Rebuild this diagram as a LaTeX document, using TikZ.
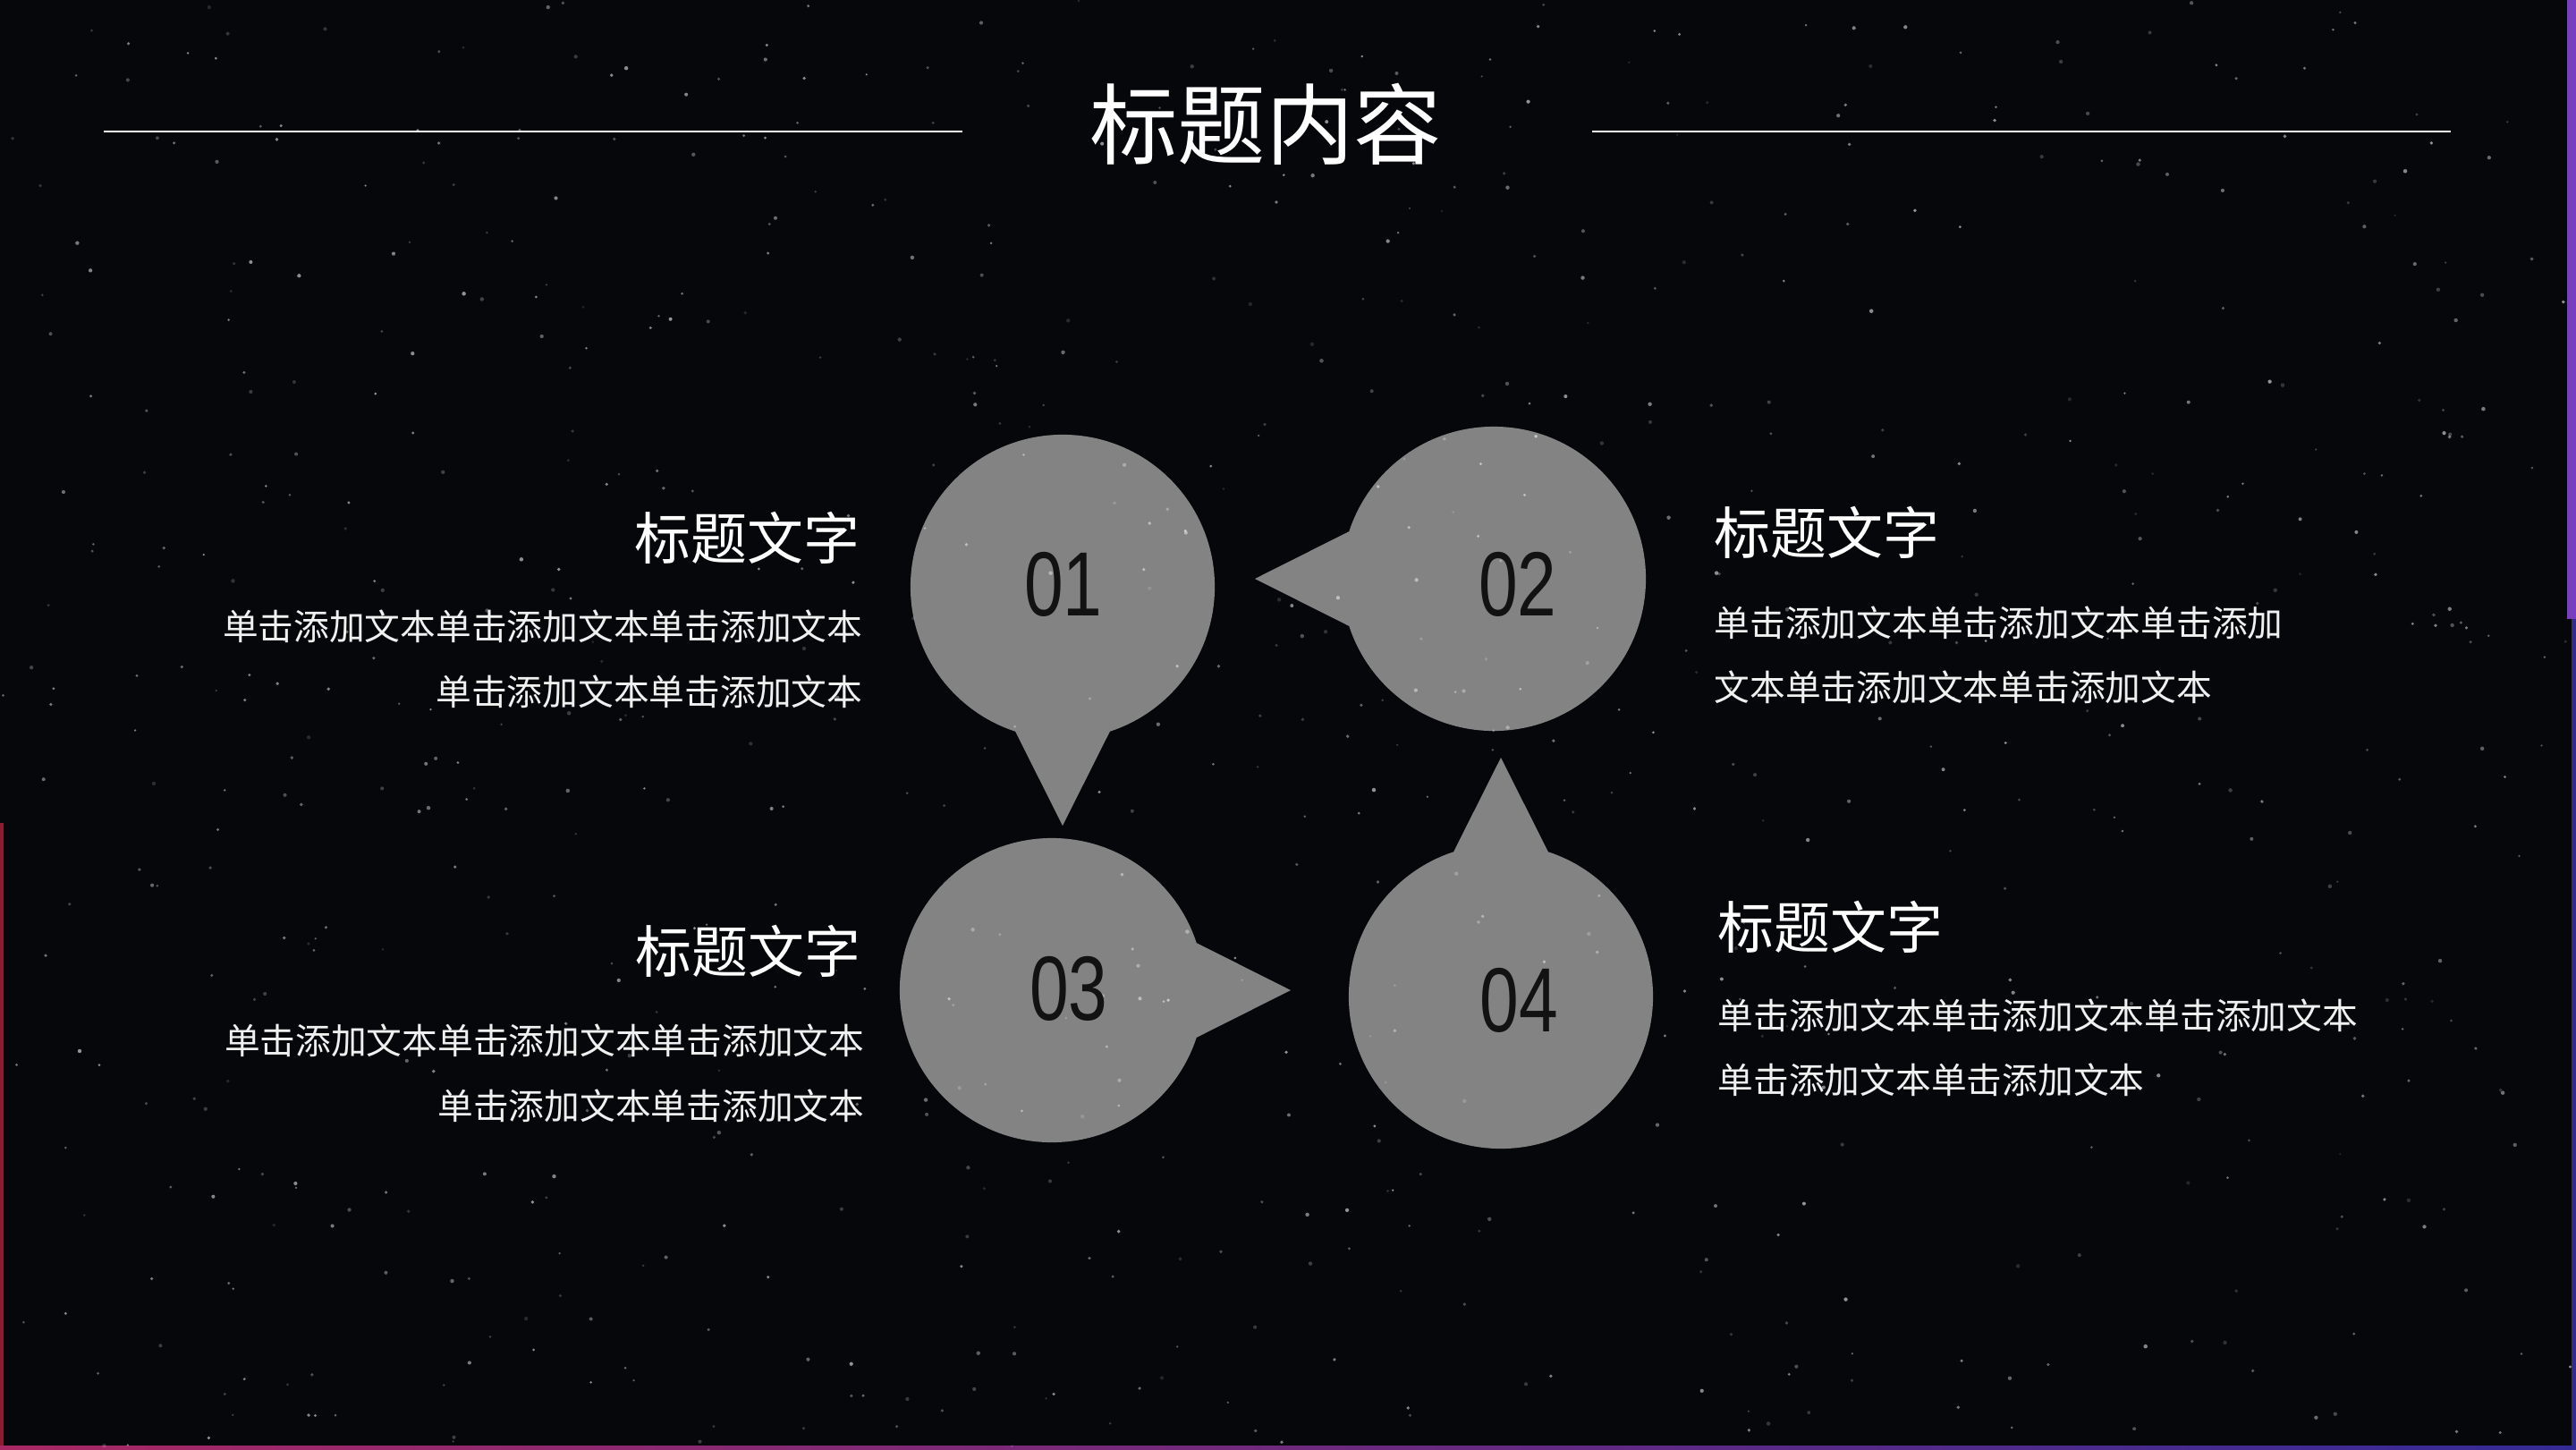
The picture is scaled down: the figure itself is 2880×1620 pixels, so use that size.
\documentclass[tikz,border=0pt]{standalone}
\usepackage{fontspec}
\usepackage{xcolor}
\usepackage{tikz}
\setmainfont{Noto Sans CJK SC}
\newfontfamily\numfont[FakeStretch=0.77]{Liberation Sans}
\definecolor{bgdark}{RGB}{6,7,10}
\definecolor{bubblegray}{RGB}{131,131,131}
\definecolor{bodytext}{RGB}{240,240,240}
\definecolor{numtext}{RGB}{18,18,18}
\definecolor{edgepurple}{RGB}{122,62,192}
\definecolor{edgered}{RGB}{140,28,52}
\definecolor{edgeblue}{RGB}{52,42,150}
\definecolor{edgepink}{RGB}{168,40,100}

\begin{document}
\begin{tikzpicture}[x=0.01cm,y=-0.01cm]
	\useasboundingbox (0,0) rectangle (2880,1620);
	\fill[bgdark] (0,0) rectangle (2880,1620);
	\fill[edgered] (0,920) rectangle (4,1620);
	\fill[edgepurple] (2870,0) rectangle (2880,692);
	\fill[edgeblue] (2875,692) rectangle (2880,1620);
	\shade[left color=edgepink,right color=edgeblue] (0,1616) rectangle (2880,1620);
	\tikzstyle{bubble}=[fill=bubblegray]
	\tikzstyle{rule}=[white,line width=0.8pt]
	\tikzstyle{title}=[text=white,font=\fontsize{28}{32}\selectfont,inner sep=0pt,anchor=base]
	\tikzstyle{head}=[text=white,font=\fontsize{17.9}{21}\selectfont,inner sep=0pt]
	\tikzstyle{body}=[text=bodytext,font=\fontsize{11.3}{14}\selectfont,inner sep=0pt]
	\tikzstyle{num}=[text=numtext,font=\numfont\fontsize{29}{32}\selectfont,inner sep=0pt]
	% speech bubbles
	\fill[bubble] (1188,656) circle (1.7cm);
	\fill[bubble] (1188,923) -- (1135,817.5) -- (1241,817.5) -- cycle;
	\fill[bubble] (1670,647) circle (1.7cm);
	\fill[bubble] (1403,647) -- (1508.5,594) -- (1508.5,700) -- cycle;
	\fill[bubble] (1176,1107) circle (1.7cm);
	\fill[bubble] (1443,1107) -- (1337.5,1054) -- (1337.5,1160) -- cycle;
	\fill[bubble] (1678,1114) circle (1.7cm);
	\fill[bubble] (1678,847) -- (1625,952.5) -- (1731,952.5) -- cycle;
	% stars
	\pgfmathsetseed{2024}
	\foreach \i in {1,...,800} {
		\pgfmathsetmacro{\sx}{rnd*2880}
		\pgfmathsetmacro{\sy}{rnd*1620}
		\pgfmathsetmacro{\so}{0.12+0.45*rnd}
		\pgfmathsetmacro{\sr}{0.35+0.3*rnd}
		\fill[white,opacity=\so] (\sx,\sy) circle (\sr pt);
	}
	% title
	\node[title] (title) at (1415,176) {标题内容};
	\draw[rule] (116,147) -- (1076,147);
	\draw[rule] (1780,147) -- (2740,147);
	% numbers
	\node[num] (n1) at (1189,653) {01};
	\node[num] (n2) at (1697,653) {02};
	\node[num] (n3) at (1195,1105) {03};
	\node[num] (n4) at (1698,1118) {04};
	% left texts
	\node[head,anchor=base east] (h1) at (962,625) {标题文字};
	\node[body,anchor=base east] (t1a) at (965,715) {单击添加文本单击添加文本单击添加文本};
	\node[body,anchor=base east] (t1b) at (965,788) {单击添加文本单击添加文本};
	\node[head,anchor=base east] (h3) at (963,1087) {标题文字};
	\node[body,anchor=base east] (t3a) at (967,1178) {单击添加文本单击添加文本单击添加文本};
	\node[body,anchor=base east] (t3b) at (967,1251) {单击添加文本单击添加文本};
	% right texts
	\node[head,anchor=base west] (h2) at (1916,619) {标题文字};
	\node[body,anchor=base west] (t2a) at (1916,711) {单击添加文本单击添加文本单击添加};
	\node[body,anchor=base west] (t2b) at (1916,783) {文本单击添加文本单击添加文本};
	\node[head,anchor=base west] (h4) at (1920,1060) {标题文字};
	\node[body,anchor=base west] (t4a) at (1920,1150) {单击添加文本单击添加文本单击添加文本};
	\node[body,anchor=base west] (t4b) at (1920,1222) {单击添加文本单击添加文本};
\end{tikzpicture}
\end{document}
